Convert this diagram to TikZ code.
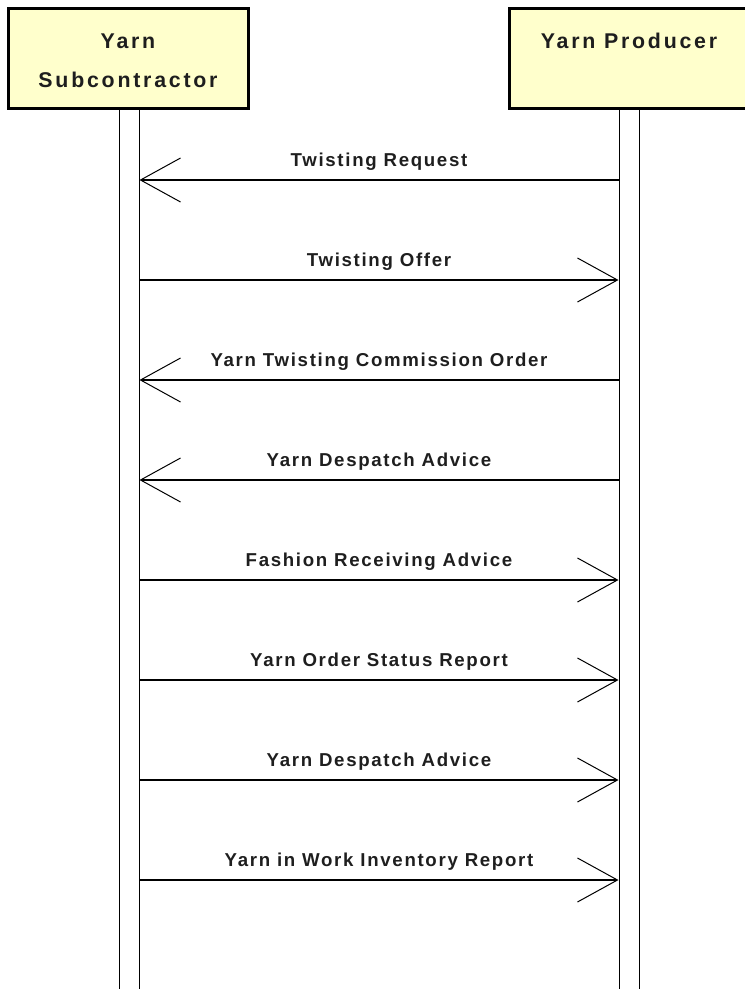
\documentclass[tikz,border=0pt]{standalone}
\usepackage{fontspec}
\newfontfamily\lblfont[LetterSpace=9]{Liberation Sans}
\newfontfamily\hdrfont[LetterSpace=13]{Liberation Sans}
\usetikzlibrary{arrows.meta}
\definecolor{actorfill}{RGB}{255,255,204}
\definecolor{txt}{RGB}{30,30,30}
\begin{document}
\begin{tikzpicture}[x=0.75pt,y=-0.75pt,
  actor/.style={draw=black, line width=2.25pt, fill=actorfill, rectangle,
    minimum width=180pt, minimum height=75pt, inner sep=0pt},
  hdr/.style={font=\hdrfont\bfseries\fontsize{16}{19}\selectfont, text=txt, anchor=base, inner sep=0pt},
  bar/.style={draw=black, line width=0.75pt, fill=white, rectangle,
    minimum width=15pt, minimum height=665.25pt, inner sep=0pt},
  msg/.style={draw=black, line width=0.9pt, -{Straight Barb[length=30pt,width=33pt,line width=0.75pt]}},
  lbl/.style={font=\lblfont\bfseries\fontsize{14}{16}\selectfont, text=txt, anchor=base, inner sep=0pt, yshift=10.5pt}
]
\useasboundingbox (0,0) rectangle (744,989);
% lifelines
\node[bar] (barL) at (129,551.5) {};
\node[bar] (barR) at (629,551.5) {};
% actors
\node[actor] (subc) at (128,58) {};
\node[actor] (prod) at (629,58) {};
\node[hdr] (subcA) at (128,48) {Yarn};
\node[hdr] (subcB) at (128,87) {Subcontractor};
\node[hdr] (prodA) at (629,48) {Yarn Producer};
% messages
\draw[msg] (barR.west |- 0,180) -- node[lbl] (m1) {Twisting Request} (barL.east |- 0,180);
\draw[msg] (barL.east |- 0,280) -- node[lbl] (m2) {Twisting Offer} (barR.west |- 0,280);
\draw[msg] (barR.west |- 0,380) -- node[lbl] (m3) {Yarn Twisting Commission Order} (barL.east |- 0,380);
\draw[msg] (barR.west |- 0,480) -- node[lbl] (m4) {Yarn Despatch Advice} (barL.east |- 0,480);
\draw[msg] (barL.east |- 0,580) -- node[lbl] (m5) {Fashion Receiving Advice} (barR.west |- 0,580);
\draw[msg] (barL.east |- 0,680) -- node[lbl] (m6) {Yarn Order Status Report} (barR.west |- 0,680);
\draw[msg] (barL.east |- 0,780) -- node[lbl] (m7) {Yarn Despatch Advice} (barR.west |- 0,780);
\draw[msg] (barL.east |- 0,880) -- node[lbl] (m8) {Yarn in Work Inventory Report} (barR.west |- 0,880);
\end{tikzpicture}
\end{document}
